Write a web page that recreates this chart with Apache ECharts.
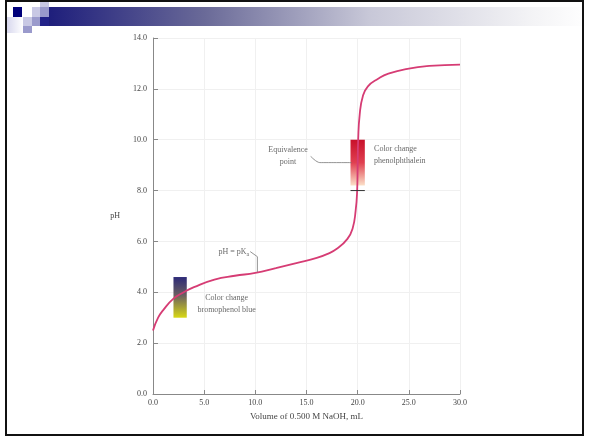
<!DOCTYPE html>
<html>
<head>
<meta charset="utf-8">
<script src="https://cdn.jsdelivr.net/npm/echarts@6/dist/echarts.min.js"></script>
<style>
html,body{margin:0;padding:0;background:#fff;}
#c{width:589px;height:441px;}
</style>
</head>
<body>
<div id="c"></div>
<script>
// ---- data ----
var volume = [0, 0.5, 1, 2, 3, 4, 6, 8, 10, 12, 14, 16, 17, 18, 19, 19.5, 19.8, 19.95, 20.0, 20.05, 20.2, 20.5, 21, 22, 23, 25, 27, 30];
var pH     = [2.5, 3.0, 3.3, 3.75, 4.0, 4.2, 4.5, 4.65, 4.76, 4.95, 5.15, 5.35, 5.5, 5.72, 6.1, 6.5, 7.2, 8.0, 9.0, 10.0, 11.0, 11.7, 12.1, 12.4, 12.6, 12.8, 12.9, 12.95];
var xTicks = [0, 5, 10, 15, 20, 25, 30];
var yTicks = [0, 2, 4, 6, 8, 10, 12, 14];
var bromoBar = [2.0, 3.3, 3.0, 4.6];     // x0, x1, y0, y1
var phenolBar = [19.3, 20.7, 8.2, 10.0]; // x0, x1, y0, y1
var pKaLeader = [[9.5, 5.6], [10.2, 5.4], [10.2, 4.8]];
var eqLeader = [[15.4, 9.35], [16.3, 9.1], [19.4, 9.1]];
var endpointMark = [[19.3, 8.0], [20.7, 8.0]];

var chart = echarts.init(document.getElementById('c'));
var serif = '"Liberation Serif", "DejaVu Serif", serif';
var txt = '#444';

chart.setOption({
  animation: false,
  backgroundColor: '#fff',
  grid: {left: 153, right: 129, top: 38, bottom: 47},
  xAxis: {
    type: 'value', min: 0, max: 30, interval: 5,
    name: 'Volume of 0.500 M NaOH, mL', nameLocation: 'middle', nameGap: 18,
    nameTextStyle: {fontFamily: serif, fontSize: 9, color: txt},
    axisLine: {lineStyle: {color: '#888', width: 1}},
    axisTick: {inside: true, length: 4, lineStyle: {color: '#888'}},
    axisLabel: {fontFamily: serif, fontSize: 8, color: txt, margin: 5,
      formatter: function (v) { return v.toFixed(1); }},
    splitLine: {show: true, lineStyle: {color: '#f0f0f0', width: 1}}
  },
  yAxis: {
    type: 'value', min: 0, max: 14, interval: 2,
    name: 'pH', nameLocation: 'middle', nameGap: 33, nameRotate: 0,
    nameTextStyle: {fontFamily: serif, fontSize: 8, color: txt},
    axisLine: {show: true, lineStyle: {color: '#888', width: 1}},
    axisTick: {show: true, inside: true, length: 5, lineStyle: {color: '#888'}},
    axisLabel: {fontFamily: serif, fontSize: 8, color: txt, margin: 6,
      formatter: function (v) { return v.toFixed(1); }},
    splitLine: {show: true, lineStyle: {color: '#f0f0f0', width: 1}}
  },
  series: [
    {
      type: 'line', name: 'curve', z: 5,
      data: volume.map(function (v, i) { return [v, pH[i]]; }),
      smooth: 0.5, showSymbol: false,
      lineStyle: {color: '#d63c74', width: 1.8},
      markArea: {
        silent: true,
        data: [
          [{coord: [bromoBar[0], bromoBar[3]], itemStyle: {color: {type: 'linear', x: 0, y: 0, x2: 0, y2: 1,
              colorStops: [{offset: 0, color: '#2d2a78'}, {offset: 0.45, color: '#6a6060'}, {offset: 1, color: '#d8d814'}]}}},
           {coord: [bromoBar[1], bromoBar[2]]}],
          [{coord: [phenolBar[0], phenolBar[3]], itemStyle: {color: {type: 'linear', x: 0, y: 0, x2: 0, y2: 1,
              colorStops: [{offset: 0, color: '#c8102a'}, {offset: 0.5, color: '#e04050'}, {offset: 1, color: '#fbe0c8'}]}}},
           {coord: [phenolBar[1], phenolBar[2]]}]
        ]
      }
    },
    {
      type: 'line', data: pKaLeader, showSymbol: false, z: 6,
      lineStyle: {color: '#777', width: 0.8}
    },
    {
      type: 'line', data: eqLeader, showSymbol: false, smooth: 0.3, z: 6,
      lineStyle: {color: '#777', width: 0.8}
    },
    {
      type: 'line', data: endpointMark, showSymbol: false, z: 7,
      lineStyle: {color: '#333', width: 1}
    },
    {
      type: 'scatter', symbolSize: 0, z: 8,
      label: {show: true, fontFamily: serif, fontSize: 8, color: txt, lineHeight: 12},
      data: [
        {value: [13.2, 9.37], label: {formatter: 'Equivalence\npoint', align: 'center', verticalAlign: 'middle'}},
        {value: [21.6, 9.4], label: {formatter: 'Color change\nphenolphthalein', align: 'left', verticalAlign: 'middle'}},
        {value: [7.2, 3.55], label: {formatter: 'Color change\nbromophenol blue', align: 'center', verticalAlign: 'middle'}},
        {value: [7.9, 5.6], label: {formatter: 'pH = pK{s|a}', align: 'center', verticalAlign: 'middle',
          rich: {s: {fontFamily: serif, fontSize: 6, color: txt, padding: [5, 0, 0, 0]}}}}
      ]
    }
  ],
  graphic: [
    {type: 'rect', shape: {x: 40, y: 7, width: 549, height: 19}, silent: true,
      style: {fill: {type: 'linear', x: 0, y: 0, x2: 1, y2: 0,
        colorStops: [{offset: 0, color: '#1a1a7a'}, {offset: 0.3, color: '#6a6a98'}, {offset: 0.6, color: '#c8c8d8'}, {offset: 0.9, color: '#f4f4f6'}, {offset: 1, color: '#ffffff'}]}}},
    {type: 'rect', shape: {x: 7, y: 17, width: 16, height: 16}, silent: true,
      style: {fill: {type: 'linear', x: 0, y: 0, x2: 1, y2: 0, colorStops: [{offset: 0, color: '#d8d8ee'}, {offset: 1, color: '#ffffff'}]}}},
    {type: 'rect', shape: {x: 13, y: 7, width: 9, height: 10}, style: {fill: '#00007a'}, silent: true},
    {type: 'rect', shape: {x: 32, y: 7, width: 8, height: 10}, style: {fill: '#c8c8e4'}, silent: true},
    {type: 'rect', shape: {x: 40, y: 2, width: 9, height: 5}, style: {fill: '#c8c8e4'}, silent: true},
    {type: 'rect', shape: {x: 40, y: 7, width: 9, height: 10}, style: {fill: '#9a9acc'}, silent: true},
    {type: 'rect', shape: {x: 23, y: 17, width: 9, height: 9}, style: {fill: '#c8c8e4'}, silent: true},
    {type: 'rect', shape: {x: 32, y: 17, width: 8, height: 9}, style: {fill: '#9a9acc'}, silent: true},
    {type: 'rect', shape: {x: 40, y: 17, width: 9, height: 9}, style: {fill: '#222288'}, silent: true},
    {type: 'rect', shape: {x: 23, y: 26, width: 9, height: 7}, style: {fill: '#9a9acc'}, silent: true},
    {type: 'rect', shape: {x: 6, y: 1, width: 577, height: 434}, silent: true,
      style: {fill: null, stroke: '#111', lineWidth: 2}}
  ]
});
</script>
</body>
</html>
